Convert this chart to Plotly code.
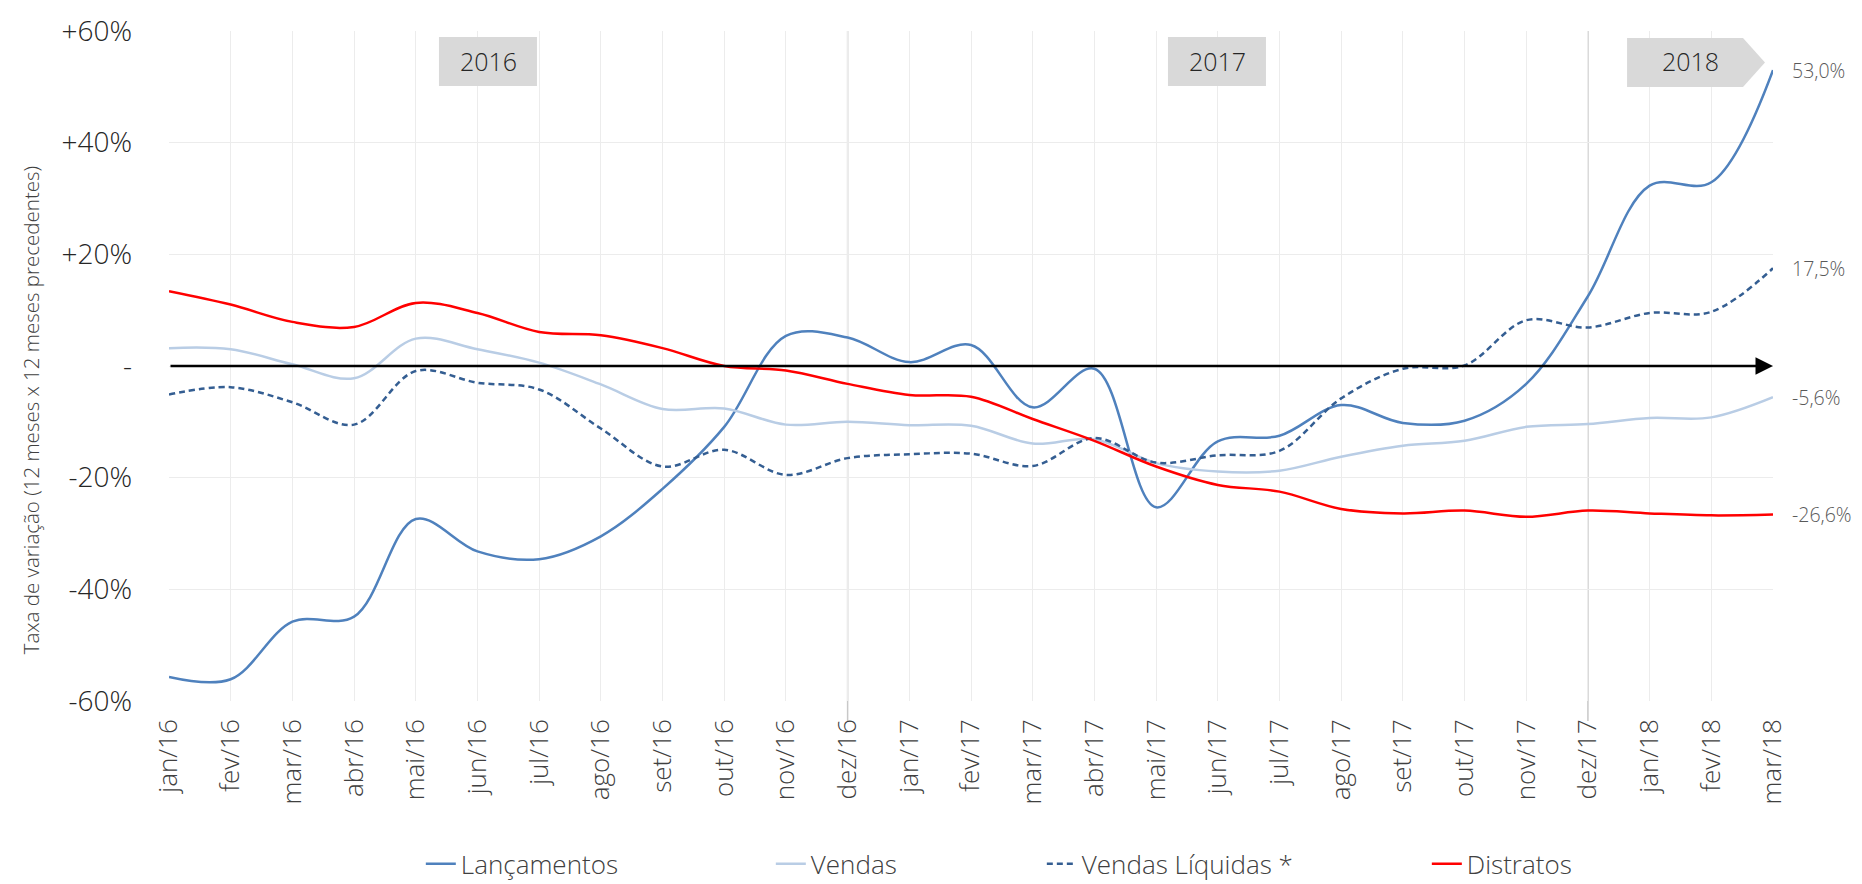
import plotly.graph_objects as go

months = ["jan/16", "fev/16", "mar/16", "abr/16", "mai/16", "jun/16", "jul/16", "ago/16", "set/16",
          "out/16", "nov/16", "dez/16", "jan/17", "fev/17", "mar/17", "abr/17", "mai/17", "jun/17",
          "jul/17", "ago/17", "set/17", "out/17", "nov/17", "dez/17", "jan/18", "fev/18", "mar/18"]

lancamentos = [-55.7, -56.1, -45.8, -44.9, -27.4, -33.2, -34.6, -30.5, -22.0, -10.9, 5.4, 5.1,
               0.7, 3.75, -7.4, -0.5, -25.3, -13.5, -12.5, -7.0, -10.2, -9.8, -3.2, 12.5,
               32.3, 32.9, 53.0]
vendas = [3.2, 3.0, 0.3, -2.2, 4.9, 3.0, 0.6, -3.3, -7.7, -7.6, -10.5, -10.0,
          -10.6, -10.7, -13.9, -13.1, -17.4, -18.9, -18.75, -16.25, -14.3, -13.4, -10.9, -10.4,
          -9.3, -9.2, -5.6]
vendas_liquidas = [-5.1, -3.8, -6.5, -10.5, -0.9, -3.0, -4.2, -11.2, -18.0, -15.0, -19.5, -16.5,
                   -15.8, -15.7, -17.9, -12.9, -17.3, -16.0, -15.2, -5.8, -0.5, 0.1, 8.2, 6.9,
                   9.5, 9.7, 17.5]
distratos = [13.4, 11.0, 7.9, 7.0, 11.3, 9.5, 6.1, 5.5, 3.2, 0.0, -0.8, -3.2,
             -5.2, -5.5, -9.5, -13.4, -18.0, -21.3, -22.5, -25.6, -26.4, -25.9, -27.0, -25.9,
             -26.4, -26.75, -26.6]

series_names = ["Lançamentos", "Vendas", "Vendas Líquidas *", "Distratos"]
year_labels = ["2016", "2017", "2018"]
separator_months = ["dez/16", "dez/17"]
y_tickvals = [-60, -40, -20, 0, 20, 40, 60]
y_ticktext = ["-60%", "-40%", "-20%", "-", "+20%", "+40%", "+60%"]
y_title = "Taxa de variação (12 meses x 12 meses precedentes)"

FONT = "Open Sans"

fig = go.Figure()
styles = [
    dict(color="#4f81bd", width=2.5, dash="solid"),
    dict(color="#b9cde5", width=2.5, dash="solid"),
    dict(color="#345e92", width=2.5, dash="6px,4px"),
    dict(color="#ff0000", width=2.5, dash="solid"),
]
legend_widths = [305, 226, 340, 160]
for name, vals, st, lw in zip(series_names, [lancamentos, vendas, vendas_liquidas, distratos],
                              styles, legend_widths):
    fig.add_trace(go.Scatter(
        x=months, y=vals, name=name, mode="lines",
        line=dict(color=st["color"], width=st["width"], dash=st["dash"], shape="spline", smoothing=1.0),
        legendwidth=lw, hoverinfo="x+y+name",
    ))

shapes = []
for m in separator_months:
    shapes.append(dict(type="line", xref="x", yref="paper", x0=m, x1=m, y0=-0.03, y1=1,
                       line=dict(color="#c8c8c8", width=1.5), layer="below"))
shapes.append(dict(type="rect", xref="paper", yref="paper", x0=0.1683, x1=0.2294, y0=0.918, y1=0.991,
                   fillcolor="#d9d9d9", line=dict(width=0)))
shapes.append(dict(type="rect", xref="paper", yref="paper", x0=0.6228, x1=0.6839, y0=0.918, y1=0.991,
                   fillcolor="#d9d9d9", line=dict(width=0)))
shapes.append(dict(type="path", xref="paper", yref="paper",
                   path="M0.909,0.9896 L0.9813,0.9896 L0.995,0.953 L0.9813,0.9164 L0.909,0.9164 Z",
                   fillcolor="#d9d9d9", line=dict(width=0)))

annotations = []
for txt, xc in zip(year_labels, [0.1989, 0.6534, 0.9483]):
    annotations.append(dict(xref="paper", yref="paper", x=xc, y=0.9545, text=txt, showarrow=False,
                            font=dict(family=FONT, size=25, color="#262626", weight=300),
                            xanchor="center", yanchor="middle"))
annotations.append(dict(xref="x", yref="y", axref="x", ayref="y", x=len(months) - 1, y=0,
                        ax=0, ay=0, text="", showarrow=True, arrowhead=2, arrowsize=1.4,
                        arrowwidth=2.5, arrowcolor="#000000", standoff=0))
for vals in [lancamentos, vendas, vendas_liquidas, distratos]:
    v = vals[-1]
    annotations.append(dict(xref="x", yref="y", x=len(months) - 1, y=v,
                            text=f"{v:.1f}%".replace(".", ","), showarrow=False,
                            xanchor="left", yanchor="middle", xshift=17,
                            font=dict(family=FONT, size=19.5, color="#595959", weight=300)))
# y-axis title (placed as rotated text, centred like the reference)
annotations.append(dict(xref="paper", yref="paper", x=-0.086, y=0.434, text=y_title,
                        textangle=-90, showarrow=False, xanchor="center", yanchor="middle",
                        font=dict(family=FONT, size=20.5, color="#404040", weight=300)))

fig.update_layout(
    width=1862, height=884,
    margin=dict(l=161, r=97, t=23, b=191, autoexpand=False),
    paper_bgcolor="white", plot_bgcolor="white",
    font=dict(family=FONT, color="#404040", weight=300),
    showlegend=True,
    legend=dict(orientation="h", x=0.157, xanchor="left", y=-0.243, yanchor="middle",
                font=dict(family=FONT, size=26, color="#404040", weight=300),
                bgcolor="rgba(0,0,0,0)"),
    shapes=shapes, annotations=annotations,
    xaxis=dict(type="category", categoryorder="array", categoryarray=months,
               range=[0, len(months) - 1], showgrid=True, gridcolor="#ececec", gridwidth=1,
               zeroline=False, showline=False, tickangle=-90, ticklabelstandoff=12,
               tickfont=dict(family=FONT, size=26, color="#404040", weight=300)),
    yaxis=dict(range=[-60, 60], tickvals=y_tickvals, ticktext=y_ticktext, showgrid=True,
               gridcolor="#ececec", gridwidth=1, zeroline=False, showline=False,
               ticklabelstandoff=36,
               tickfont=dict(family=FONT, size=28, color="#262626", weight=300)),
)

fig.write_html("out.html")
